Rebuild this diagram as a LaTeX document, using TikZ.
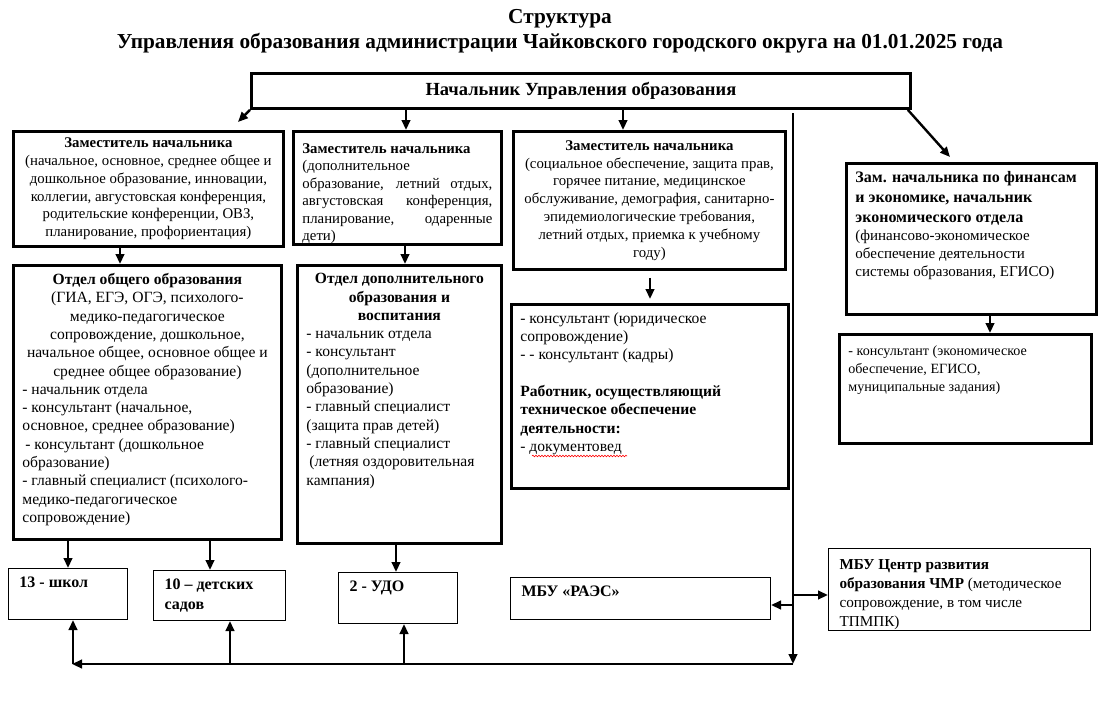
\documentclass[tikz,border=0pt]{standalone}
\usepackage{fontspec}
\setmainfont{Liberation Serif}
\usetikzlibrary{arrows.meta, positioning, calc, decorations.pathmorphing}

\newcommand{\cellbox}[3]{\parbox[c][#2pt][t]{#1pt}{#3}}

\begin{document}
\begin{tikzpicture}[x=1pt, y=-1pt, >={Triangle[length=10pt, width=8.5pt]}, line width=2.4pt]
    \tikzset{
        bigbox/.style={rectangle, draw, line width=2.8pt, anchor=north west, inner xsep=9pt, inner ysep=5pt},
        smallbox/.style={rectangle, draw, line width=1pt, anchor=north west, inner xsep=11pt, inner ysep=8pt, font=\fontsize{16}{20}\selectfont\bfseries},
        line/.style={draw, ->, line width=2.4pt},
        deputy/.style={font=\fontsize{14.8}{17.8}\selectfont},
        dept/.style={font=\fontsize{15.6}{18.3}\selectfont, inner ysep=8pt},
        spelling/.style={draw=red, line width=0.6pt, decorate, decoration={snake, amplitude=0.8pt, segment length=3pt}}
    }
    \useasboundingbox (0,0) rectangle (1117,724);

    \node (title) [inner sep=0pt] at (560,19) {\fontsize{21.3}{26}\selectfont\bfseries Структура};
    \node (subtitle) [inner sep=0pt] at (560,43) {\fontsize{21.3}{26}\selectfont\bfseries Управления образования администрации Чайковского городского округа на 01.01.2025 года};

    \node (head) [bigbox, minimum width=659pt, minimum height=35pt, font=\fontsize{18.5}{22}\selectfont\bfseries] at (250,72) {Начальник Управления образования};

    \node (depA) [bigbox, deputy, align=center, minimum width=270pt, minimum height=115pt] at (12,130) {\textbf{Заместитель начальника}\\ (начальное, основное, среднее общее и\\ дошкольное образование, инновации,\\ коллегии, августовская конференция,\\ родительские конференции, ОВЗ,\\ планирование, профориентация)};
    \node (depB) [bigbox, deputy, inner ysep=12pt, font=\fontsize{14.8}{17.5}\selectfont] at (292,130) {\cellbox{190}{89}{\textbf{Заместитель начальника}\\ (дополнительное\\ образование, летний отдых,\linebreak августовская конференция,\linebreak планирование, одаренные\linebreak дети)}};
    \node (depC) [bigbox, deputy, align=center, minimum width=272pt, minimum height=138pt] at (512,130) {\textbf{Заместитель начальника}\\ (социальное обеспечение, защита прав,\\ горячее питание, медицинское\\ обслуживание, демография, санитарно-\\ эпидемиологические требования,\\ летний отдых, приемка к учебному\\ году)};
    \node (depD) [bigbox, inner ysep=8pt] at (845,162) {\cellbox{232}{135}{\raggedright{\fontsize{16}{20}\selectfont\bfseries Зам. начальника по финансам\\ и экономике, начальник\\ экономического отдела\par}{\fontsize{15}{18}\selectfont (финансово-экономическое\\ обеспечение деятельности\\ системы образования, ЕГИСО)\par}}};

    \node (deptA) [bigbox, dept] at (12,264) {\cellbox{250}{258}{{\centering\textbf{Отдел общего образования}\\ (ГИА, ЕГЭ, ОГЭ, психолого-\\ медико-педагогическое\\ сопровождение, дошкольное,\\ начальное общее, основное общее и\\ среднее общее образование)\par}\raggedright - начальник отдела\\ - консультант (начальное,\\ основное, среднее образование)\\ \hspace*{3pt}- консультант (дошкольное\\ образование)\\ - главный специалист (психолого-\\ медико-педагогическое\\ сопровождение)}};
    \node (deptB) [bigbox, dept] at (296,264) {\cellbox{186}{262}{{\centering\bfseries Отдел дополнительного\\ образования и\\ воспитания\par}\raggedright - начальник отдела\\ - консультант\\ (дополнительное\\ образование)\\ - главный специалист\\ (защита прав детей)\\ - главный специалист\\ \hspace*{3pt}(летняя оздоровительная\\ кампания)}};
    \node (officeC) [bigbox, dept] at (510,303) {\cellbox{259}{168}{\raggedright - консультант (юридическое\\ сопровождение)\\ - - консультант (кадры)\\ \mbox{}\\ \textbf{Работник, осуществляющий}\\ \textbf{техническое обеспечение}\\ \textbf{деятельности:}\\ - документовед}};
    \node (econ) [bigbox, inner ysep=11pt, font=\fontsize{14.1}{18}\selectfont] at (838,333) {\cellbox{234}{87}{\raggedright - консультант (экономическое\\ обеспечение, ЕГИСО,\\ муниципальные задания)}};

    \node (school) [smallbox] at (8,568) {\cellbox{97}{35}{13 - школ}};
    \node (kinder) [smallbox] at (153,570) {\cellbox{110}{34}{\raggedright 10 – детских\\ садов}};
    \node (udo) [smallbox] at (338,572) {\cellbox{97}{35}{2 - УДО}};
    \node (raes) [smallbox] at (510,577) {\cellbox{238}{26}{МБУ «РАЭС»}};
    \node (centre) [smallbox, inner ysep=11pt, font=\fontsize{15.2}{19}\selectfont] at (828,548) {\cellbox{240}{60}{\raggedright\textbf{МБУ Центр развития}\\ \textbf{образования ЧМР} (методическое\\ сопровождение, в том числе\\ ТПМПК)}};

    \coordinate (tipA) at (238,122);
    \coordinate (tipD) at (950,157);
    \coordinate (xB) at (406,0);
    \coordinate (xC) at (623,0);
    \coordinate (xA2) at (120,0);
    \coordinate (xB2) at (405,0);
    \coordinate (xC2) at (650,0);
    \coordinate (xD2) at (990,0);
    \coordinate (xS) at (68,0);
    \coordinate (xK) at (210,0);
    \coordinate (xU) at (396,0);
    \coordinate (xSu) at (73,0);
    \coordinate (xKu) at (230,0);
    \coordinate (xUu) at (404,0);
    \coordinate (yR) at (0,605);
    \coordinate (yM) at (0,595);
    \coordinate (busTop) at (793,113);
    \coordinate (busCorner) at (793,664);
    \coordinate (busEnd) at (72,664);

    \path [line] (head.south west) -- (tipA);
    \path [line] (head.south -| xB) -- (depB.north -| xB);
    \path [line] (head.south -| xC) -- (depC.north -| xC);
    \path [line] ($(head.south east)+(-4,0)$) -- (tipD);
    \path [line] (busTop) -- (busCorner);
    \path [line] (busCorner) -- (busEnd);
    \path [line] (depA.south -| xA2) -- (deptA.north -| xA2);
    \path [line] (depB.south -| xB2) -- (deptB.north -| xB2);
    \path [line, shorten <=7pt, shorten >=4pt] (depC.south -| xC2) -- (officeC.north -| xC2);
    \path [line] (depD.south -| xD2) -- (econ.north -| xD2);
    \path [line] (deptA.south -| xS) -- (school.north -| xS);
    \path [line] (deptA.south -| xK) -- (kinder.north -| xK);
    \path [line] (deptB.south -| xU) -- (udo.north -| xU);
    \path [line] (busEnd -| xSu) -- (school.south -| xSu);
    \path [line] (busEnd -| xKu) -- (kinder.south -| xKu);
    \path [line] (busEnd -| xUu) -- (udo.south -| xUu);
    \path [line] (busTop |- yR) -- (raes.east |- yR);
    \path [line] (busTop |- yM) -- (centre.west |- yM);

    \path [spelling] ($(officeC.north west)+(22,153)$) -- ($(officeC.north west)+(117,153)$);

\end{tikzpicture}
\end{document}
